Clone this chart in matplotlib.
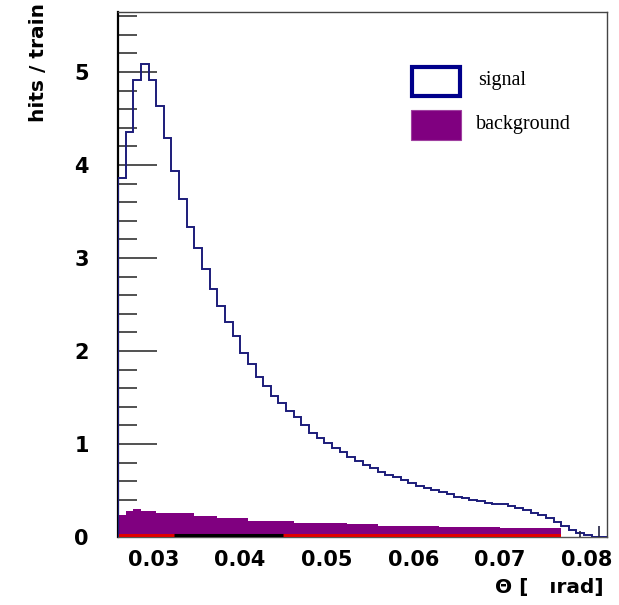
import numpy as np
import matplotlib
matplotlib.use("Agg")
import matplotlib.pyplot as plt
from matplotlib.patches import Rectangle
from matplotlib.ticker import MultipleLocator

# Data
x_lo, x_hi, n_bins = 0.0259, 0.08237, 64
edges = np.linspace(x_lo, x_hi, n_bins + 1)

signal = [3.86, 4.36, 4.91, 5.09, 4.91, 4.63, 4.29, 3.93, 3.63, 3.33,
          3.11, 2.88, 2.67, 2.48, 2.31, 2.16, 1.98, 1.86, 1.72, 1.62,
          1.52, 1.44, 1.36, 1.29, 1.20, 1.12, 1.06, 1.01, 0.96, 0.91,
          0.86, 0.82, 0.77, 0.74, 0.70, 0.67, 0.64, 0.61, 0.58, 0.55,
          0.53, 0.50, 0.48, 0.46, 0.43, 0.42, 0.40, 0.39, 0.37, 0.36,
          0.35, 0.33, 0.31, 0.29, 0.26, 0.24, 0.20, 0.16, 0.12, 0.07,
          0.04, 0.02, 0.0, 0.0]

background = ([0.24, 0.28, 0.30, 0.28, 0.28] + [0.26] * 5 + [0.23] * 3 +
              [0.20] * 4 + [0.175] * 6 + [0.15] * 7 + [0.136] * 4 +
              [0.12] * 8 + [0.11] * 8 + [0.10] * 8 + [0.0] * 6)

red = [0.035] * 58 + [0.0] * 6

# short black segment near zero
black_x = [0.0324, 0.0449]
black_y = 0.022

# two little error-bar ticks near the end of the signal
err_x = [0.0793, 0.0814]
err_lo = [0.0, 0.0]
err_hi = [0.06, 0.12]

y_ticks = [0, 1, 2, 3, 4, 5]
x_ticks = [0.03, 0.04, 0.05, 0.06, 0.07, 0.08]

navy = "#1c1c7a"
purple = "#800080"

fig = plt.figure(figsize=(6.19, 6.05), dpi=100)
ax = fig.add_axes([118 / 619, 68 / 605, 489 / 619, 525 / 605])

ax.stairs(background, edges, fill=True, color=purple, zorder=2)
ax.stairs(red, edges, fill=True, color="#e00000", zorder=3)
ax.hlines(black_y, black_x[0], black_x[1], color="black", lw=2.2, zorder=4)
ax.stairs(signal, edges, baseline=0, color=navy, lw=1.4, zorder=5)
ax.vlines(err_x, err_lo, err_hi, color="#222244", lw=1.2, zorder=5)

ax.set_xlim(x_lo, x_hi)
ax.set_ylim(0, 5.645)

ax.set_yticks(y_ticks)
ax.yaxis.set_minor_locator(MultipleLocator(0.2))
ax.tick_params(axis="y", which="major", direction="in", length=28, width=1.1,
               color="#222222", pad=21)
ax.tick_params(axis="y", which="minor", direction="in", length=14, width=1.1,
               color="#222222")
ax.set_xticks(x_ticks)
ax.set_xticklabels([f"{v:.2f}" for v in x_ticks])
ax.tick_params(axis="x", length=0, pad=9)

for lab in ax.get_xticklabels() + ax.get_yticklabels():
    lab.set_fontfamily("DejaVu Sans")
    lab.set_fontweight("bold")
    lab.set_fontsize(15)

for side in ["top", "right"]:
    ax.spines[side].set_color("#444444")
    ax.spines[side].set_linewidth(1.0)
ax.spines["left"].set_linewidth(1.6)
ax.spines["bottom"].set_linewidth(1.0)
ax.spines["bottom"].set_color("#555555")

# axis titles
fig.text(38 / 619, 1 - 3 / 605, "hits / train", rotation=90, ha="center", va="top",
         fontsize=14.5, fontweight="bold", family="DejaVu Sans")
fig.text(604 / 619, 1 - 588 / 605, "\u0398 [   \u0131rad]", ha="right", va="center",
         fontsize=14.5, fontweight="bold", family="DejaVu Sans")

# legend drawn by hand in figure pixels
def fig_rect(x0, y0, x1, y1, **kw):
    fig.patches.append(Rectangle((x0 / 619, 1 - y1 / 605), (x1 - x0) / 619,
                                 (y1 - y0) / 605, transform=fig.transFigure, **kw))

fig_rect(412, 67, 460, 96, fill=False, edgecolor="#00008b", lw=3)
fig_rect(411, 110, 461, 140, facecolor=purple, edgecolor="#a040a0", lw=0.8)
fig.text(478 / 619, 1 - 80 / 605, "signal", ha="left", va="center",
         fontsize=14.5, family="Liberation Serif")
fig.text(476 / 619, 1 - 125 / 605, "background", ha="left", va="center",
         fontsize=14.5, family="Liberation Serif")

fig.savefig("out.png", dpi=100)
